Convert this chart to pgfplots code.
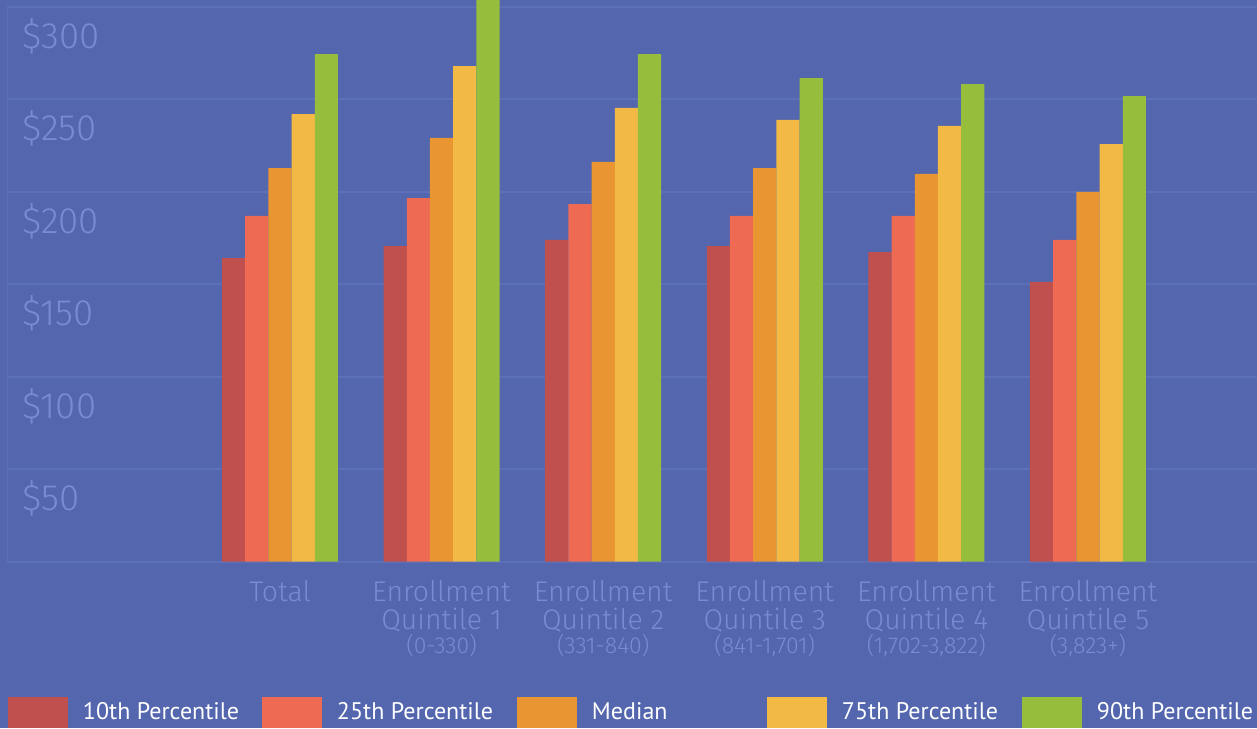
\documentclass[border=0pt]{standalone}
\usepackage{pgfplots}
\pgfplotsset{compat=1.18}
\usepackage{fontspec}
\setmainfont{PT Sans}
\newfontfamily\lightfont{Fira Sans Light}
\definecolor{bg}{HTML}{5366AE}
\definecolor{gridc}{HTML}{5B70B9}
\definecolor{lbl}{HTML}{7A8BD6}
\definecolor{cA}{HTML}{C0504D}
\definecolor{cB}{HTML}{EE6A52}
\definecolor{cC}{HTML}{E89532}
\definecolor{cD}{HTML}{F2B944}
\definecolor{cE}{HTML}{96BE3C}
\begin{document}
\begin{tikzpicture}
\path[use as bounding box, fill=bg] (0,0) rectangle (628.5pt,364pt);
\begin{axis}[
  at={(3.5pt,83.15pt)}, anchor=south west,
  scale only axis, width=625pt, height=280.85pt,
  xmin=-1.689, xmax=6.046, ymin=0, ymax=303.8,
  ybar=0pt, bar width=11.6pt,
  axis line style={draw=none},
  major tick length=0pt,
  ymajorgrids, grid style={gridc, line width=1pt},
  ytick={0,50,100,150,200,250,300},
  yticklabels={,\$50,\$100,\$150,\$200,\$250,\$300},
  yticklabel style={anchor=north west, xshift=7.5pt, yshift=-5.5pt, text=lbl, font=\lightfont\fontsize{18.3}{18.3}\selectfont, inner sep=0pt},
  /pgf/number format/assume math mode=true,
  xtick={0,1,2,3,4,5},
  xticklabels={Total,
    {Enrollment\\Quintile 1\\[-2pt]{\fontsize{11.5}{11.5}\selectfont (0-330)}},
    {Enrollment\\Quintile 2\\[-2pt]{\fontsize{11.5}{11.5}\selectfont (331-840)}},
    {Enrollment\\Quintile 3\\[-2pt]{\fontsize{11.5}{11.5}\selectfont (841-1,701)}},
    {Enrollment\\Quintile 4\\[-2pt]{\fontsize{11.5}{11.5}\selectfont (1,702-3,822)}},
    {Enrollment\\Quintile 5\\[-2pt]{\fontsize{11.5}{11.5}\selectfont (3,823+)}}},
  xticklabel style={align=center, text=lbl, font=\lightfont\fontsize{14.2}{14}\selectfont, inner sep=0pt, anchor=north, yshift=-9pt},
  legend columns=5,
  legend style={at={(axis description cs:0.0008,-0.2961)}, anchor=south west, draw=none, fill=none,
    inner sep=0pt, outer sep=0pt,
    nodes={inner sep=0pt, text=white, font=\fontsize{12}{12}\selectfont},
    column sep=0pt,
    /tikz/every odd column/.append style={column sep=7.5pt}},
  legend image code/.code={\fill[#1] (0pt,-7.75pt) rectangle (30pt,7.75pt);},
]
\draw[gridc, line width=1pt] (axis cs:-1.689,0) -- (axis cs:-1.689,300);
\addplot[fill=cA, draw=none] coordinates {(0,164.2) (1,170.7) (2,174.0) (3,170.7) (4,167.5) (5,151.3)};
\addplot[fill=cB, draw=none] coordinates {(0,187.0) (1,196.7) (2,193.4) (3,187.0) (4,187.0) (5,174.0)};
\addplot[fill=cC, draw=none] coordinates {(0,212.9) (1,229.2) (2,216.2) (3,212.9) (4,209.7) (5,200.0)};
\addplot[fill=cD, draw=none] coordinates {(0,242.1) (1,268.1) (2,245.4) (3,238.9) (4,235.7) (5,225.9)};
\addplot[fill=cE, draw=none] coordinates {(0,274.5) (1,306.0) (2,274.5) (3,261.6) (4,258.3) (5,251.8)};
\legend{\makebox[89.5pt][l]{10th Percentile},\makebox[90pt][l]{25th Percentile},\makebox[87.5pt][l]{Median},\makebox[90pt][l]{75th Percentile},90th Percentile}
\end{axis}
\end{tikzpicture}
\end{document}
